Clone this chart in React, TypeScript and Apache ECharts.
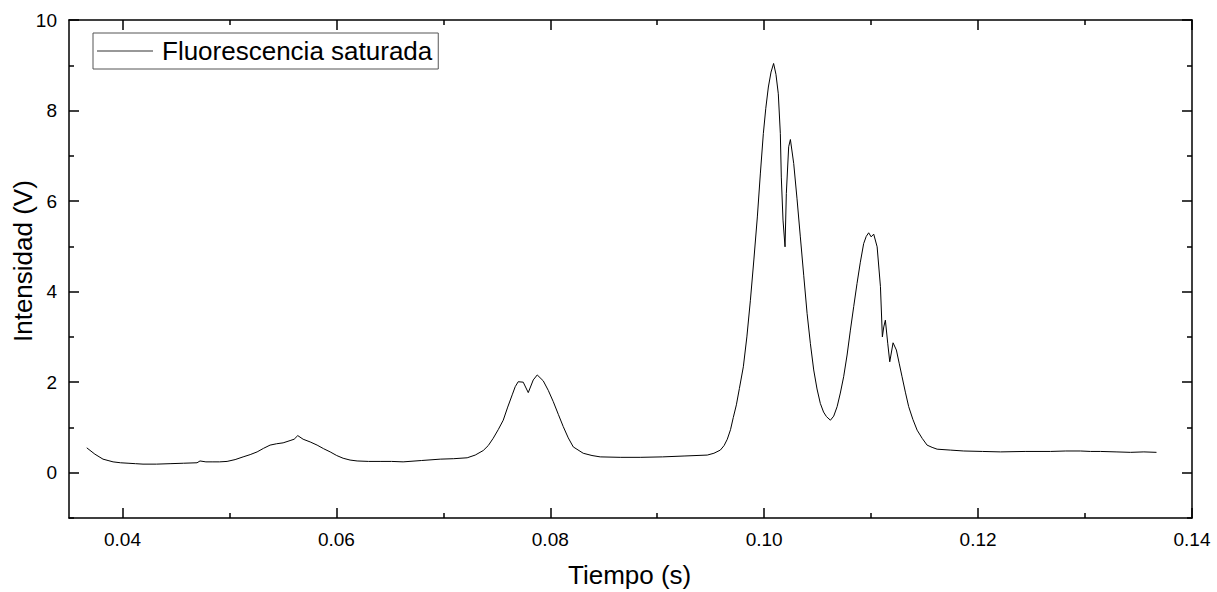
import React, { useEffect, useRef } from "react";
import * as echarts from "echarts";

const seriesName = "Fluorescencia saturada";
const xTitle = "Tiempo (s)";
const yTitle = "Intensidad (V)";

const xMajorTicks = [0.04, 0.06, 0.08, 0.1, 0.12, 0.14];
const xMinorTicks = [0.05, 0.07, 0.09, 0.11, 0.13];
const yMajorTicks = [0, 2, 4, 6, 8, 10];
const yMinorTicks = [-1, 1, 3, 5, 7, 9];

const time = [
  0.03666, 0.03742, 0.03818, 0.03865, 0.03912, 0.03982, 0.04052, 0.04122, 0.04192, 0.04318,
  0.04445, 0.04571, 0.04697, 0.04725, 0.04780, 0.04838, 0.04908, 0.04978, 0.05053, 0.05128,
  0.05194, 0.05259, 0.05320, 0.05380, 0.05441, 0.05502, 0.05567, 0.05605, 0.05639, 0.05689,
  0.05755, 0.05820, 0.05881, 0.05942, 0.06003, 0.06063, 0.06128, 0.06194, 0.06300, 0.06409,
  0.06516, 0.06624, 0.06797, 0.06971, 0.07097, 0.07223, 0.07298, 0.07373, 0.07420, 0.07466,
  0.07513, 0.07560, 0.07602, 0.07644, 0.07672, 0.07700, 0.07747, 0.07794, 0.07841, 0.07878,
  0.07934, 0.07981, 0.08028, 0.08075, 0.08121, 0.08168, 0.08215, 0.08308, 0.08390, 0.08467,
  0.08654, 0.08841, 0.09050, 0.09259, 0.09468, 0.09530, 0.09590, 0.09625, 0.09655, 0.09685,
  0.09711, 0.09740, 0.09768, 0.09805, 0.09838, 0.09871, 0.09904, 0.09936, 0.09964, 0.09992,
  0.10015, 0.10039, 0.10064, 0.10088, 0.10110, 0.10132, 0.10151, 0.10160, 0.10176, 0.10195,
  0.10207, 0.10229, 0.10245, 0.10276, 0.10307, 0.10338, 0.10370, 0.10401, 0.10432, 0.10463,
  0.10494, 0.10525, 0.10555, 0.10582, 0.10619, 0.10650, 0.10682, 0.10712, 0.10743, 0.10775,
  0.10806, 0.10837, 0.10868, 0.10899, 0.10930, 0.10954, 0.10977, 0.11000, 0.11024, 0.11056,
  0.11087, 0.11105, 0.11118, 0.11133, 0.11155, 0.11174, 0.11205, 0.11236, 0.11262, 0.11289,
  0.11320, 0.11351, 0.11390, 0.11430, 0.11477, 0.11523, 0.11570, 0.11617, 0.11740, 0.11866,
  0.12040, 0.12209, 0.12440, 0.12677, 0.12820, 0.12957, 0.13050, 0.13145, 0.13290, 0.13425,
  0.13550, 0.13668,
];

const intensity = [
  0.55, 0.41, 0.3, 0.27, 0.24, 0.22, 0.21, 0.2, 0.19, 0.19,
  0.2, 0.21, 0.22, 0.26, 0.24, 0.24, 0.24, 0.25, 0.29, 0.35,
  0.4, 0.46, 0.54, 0.61, 0.64, 0.66, 0.71, 0.74, 0.82, 0.74,
  0.68, 0.61, 0.53, 0.46, 0.38, 0.32, 0.28, 0.26, 0.25, 0.25,
  0.25, 0.24, 0.27, 0.3, 0.31, 0.33, 0.39, 0.49, 0.6, 0.76,
  0.95, 1.16, 1.45, 1.72, 1.9, 2.01, 2.0, 1.77, 2.05, 2.16,
  2.03, 1.82, 1.57, 1.29, 1.02, 0.77, 0.57, 0.43, 0.38, 0.35,
  0.34, 0.34, 0.35, 0.37, 0.39, 0.43, 0.5, 0.6, 0.74, 0.95,
  1.22, 1.5, 1.86, 2.34, 3.0, 3.81, 4.72, 5.65, 6.6, 7.49,
  8.05, 8.52, 8.85, 9.04, 8.8, 8.37, 7.49, 6.53, 5.58, 4.99,
  6.17, 7.2, 7.36, 6.83, 6.05, 5.21, 4.35, 3.52, 2.85, 2.27,
  1.85, 1.53, 1.34, 1.24, 1.16, 1.25, 1.46, 1.76, 2.12, 2.6,
  3.15, 3.67, 4.18, 4.65, 5.06, 5.22, 5.3, 5.21, 5.27, 4.99,
  4.11, 3.0, 3.22, 3.37, 2.86, 2.45, 2.87, 2.71, 2.42, 2.12,
  1.78, 1.46, 1.18, 0.94, 0.76, 0.61, 0.56, 0.52, 0.5, 0.48,
  0.47, 0.46, 0.47, 0.47, 0.48, 0.48, 0.47, 0.47, 0.46, 0.45,
  0.46, 0.45,
];

const FONT = "'Liberation Sans', Arial, sans-serif";

export default function App() {
  const ref = useRef<HTMLDivElement>(null);

  useEffect(() => {
    if (!ref.current) return;
    const chart = echarts.init(ref.current, undefined, { renderer: "svg" });
    const data = time.map((t, i) => [t, intensity[i]]);
    const lineStyle = { color: "#000", width: 1.5 };

    const baseX = (position: string, ticks: number[], len: number, labels: boolean, showLine: boolean) => ({
      type: "value",
      min: 0.035,
      max: 0.14,
      position,
      axisLine: { show: showLine, onZero: false, lineStyle },
      axisTick: { show: true, inside: true, length: len, customValues: ticks, lineStyle },
      axisLabel: labels
        ? {
            show: true,
            customValues: ticks,
            formatter: (v: number) => v.toFixed(2),
            fontSize: 19,
            fontFamily: FONT,
            color: "#000",
            margin: 12,
          }
        : { show: false },
      splitLine: { show: false },
    });

    const baseY = (position: string, ticks: number[], len: number, labels: boolean, showLine: boolean) => ({
      type: "value",
      min: -1,
      max: 10,
      position,
      axisLine: { show: showLine, onZero: false, lineStyle },
      axisTick: { show: true, inside: true, length: len, customValues: ticks, lineStyle },
      axisLabel: labels
        ? {
            show: true,
            customValues: ticks,
            fontSize: 19,
            fontFamily: FONT,
            color: "#000",
            margin: 12,
          }
        : { show: false },
      splitLine: { show: false },
    });

    chart.setOption({
      animation: false,
      backgroundColor: "#fff",
      grid: { left: 69, right: 25, top: 20, bottom: 74, containLabel: false },
      legend: {
        show: true,
        left: 93,
        top: 33,
        orient: "horizontal",
        icon: "rect",
        itemWidth: 56,
        itemHeight: 1,
        padding: [5, 6, 5, 4],
        borderColor: "#555",
        borderWidth: 1,
        textStyle: { fontSize: 26, fontFamily: FONT, color: "#000", padding: [0, 0, 0, 4] },
        data: [{ name: seriesName, itemStyle: { color: "#333" } }],
      },
      xAxis: [
        baseX("bottom", xMajorTicks, 10, true, true),
        baseX("bottom", xMinorTicks, 5, false, false),
        baseX("top", xMajorTicks, 10, false, true),
        baseX("top", xMinorTicks, 5, false, false),
      ],
      yAxis: [
        baseY("left", yMajorTicks, 10, true, true),
        baseY("left", yMinorTicks, 5, false, false),
        baseY("right", yMajorTicks, 10, false, true),
        baseY("right", yMinorTicks, 5, false, false),
      ],
      graphic: [
        {
          type: "text",
          left: 568,
          top: 562,
          style: { text: xTitle, fontSize: 26, fontFamily: FONT, fill: "#000" },
        },
        {
          type: "text",
          x: 10,
          y: 342,
          rotation: Math.PI / 2,
          style: { text: yTitle, fontSize: 26, fontFamily: FONT, fill: "#000" },
        },
      ],
      series: [
        {
          name: seriesName,
          type: "line",
          xAxisIndex: 0,
          yAxisIndex: 0,
          data,
          showSymbol: false,
          symbol: "none",
          lineStyle: { color: "#000", width: 1 },
          itemStyle: { color: "#333" },
        },
      ],
    });

    return () => chart.dispose();
  }, []);

  return (
    <div
      ref={ref}
      style={{ position: "fixed", left: 0, top: 0, width: 1217, height: 592, background: "#fff" }}
    />
  );
}
